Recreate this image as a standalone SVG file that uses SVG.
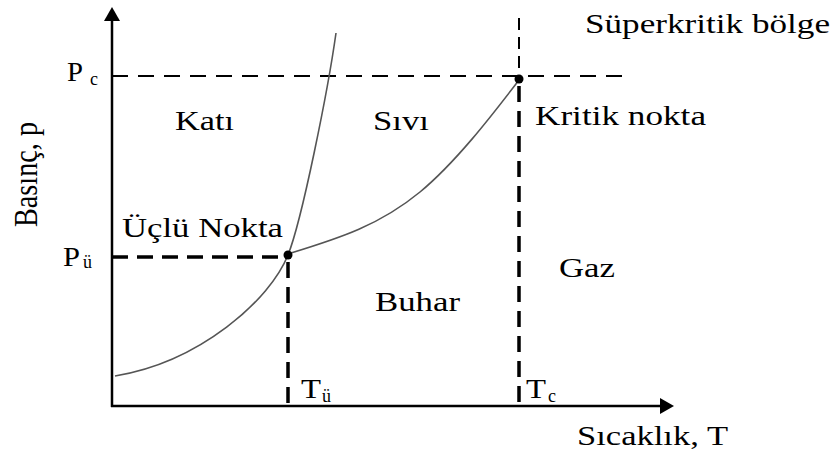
<svg xmlns="http://www.w3.org/2000/svg" width="836" height="453" viewBox="0 0 836 453">
<style>
  text { font-family: "Liberation Serif", "Times New Roman", serif; fill: #000; }
  .lbl { font-size: 27px; }
  .sub { font-size: 18px; }
  .axis { stroke: #000; stroke-width: 2.5; fill: none; }
  .thin-dash { stroke: #000; stroke-width: 2; stroke-dasharray: 16 10; fill: none; }
  .thin-dash-v { stroke: #000; stroke-width: 2; stroke-dasharray: 12 7; fill: none; }
  .thick-dash { stroke: #000; stroke-width: 3.5; stroke-dasharray: 16 9; fill: none; }
  .curve { stroke: #555; stroke-width: 1.6; fill: none; }
  .pt { fill: #000; }
</style>
<defs>
  <marker id="arrow" viewBox="0 0 14 16" refX="0" refY="8" markerWidth="14" markerHeight="16" orient="auto" markerUnits="userSpaceOnUse">
    <path d="M0,0 L14,8 L0,16 z" fill="#000"/>
  </marker>
</defs>
<rect width="836" height="453" fill="#fff"/>

<g id="connectors">
  <line class="axis" x1="112" y1="407" x2="112" y2="21" marker-end="url(#arrow)"/>
  <line class="axis" x1="111" y1="406" x2="660" y2="406" marker-end="url(#arrow)"/>
  <line class="thin-dash" x1="112" y1="76" x2="627" y2="76"/>
  <line class="thin-dash-v" x1="519" y1="18" x2="519" y2="76"/>
  <line class="thick-dash" x1="519" y1="86" x2="519" y2="406" stroke-dasharray="13 7"/>
  <line class="thick-dash" x1="112" y1="257" x2="288" y2="257"/>
  <line class="thick-dash" x1="288" y1="262" x2="288" y2="406" stroke-dasharray="15 7"/>
  <path class="curve" d="M115,376 C200,362 270,300 288,255 C302,220 328,90 336,33"/>
  <path class="curve" d="M291,253 C340,238 380,225 420,192 C455,163 490,118 519,80"/>
</g>

<g id="triple-point">
  <circle class="pt" cx="288" cy="255" r="4.5"/>
  <text class="lbl" x="122" y="237" textLength="161" lengthAdjust="spacingAndGlyphs">Üçlü Nokta</text>
</g>
<g id="critical-point">
  <circle class="pt" cx="519" cy="79" r="4.5"/>
  <text class="lbl" x="535" y="125" textLength="171" lengthAdjust="spacingAndGlyphs">Kritik nokta</text>
</g>
<g id="supercritical">
  <text class="lbl" x="585" y="33" textLength="245" lengthAdjust="spacingAndGlyphs">Süperkritik bölge</text>
</g>
<g id="solid">
  <text class="lbl" x="175" y="130" textLength="59" lengthAdjust="spacingAndGlyphs">Katı</text>
</g>
<g id="liquid">
  <text class="lbl" x="373" y="130" textLength="56" lengthAdjust="spacingAndGlyphs">Sıvı</text>
</g>
<g id="vapor">
  <text class="lbl" x="375" y="311" textLength="85" lengthAdjust="spacingAndGlyphs">Buhar</text>
</g>
<g id="gas">
  <text class="lbl" x="559" y="277" textLength="56" lengthAdjust="spacingAndGlyphs">Gaz</text>
</g>
<g id="pc-label">
  <text class="lbl" x="67" y="81" textLength="16" lengthAdjust="spacingAndGlyphs">P</text>
  <text class="sub" x="90" y="85">c</text>
</g>
<g id="pu-label">
  <text class="lbl" x="63" y="266" textLength="17" lengthAdjust="spacingAndGlyphs">P</text>
  <text class="sub" x="83" y="268">ü</text>
</g>
<g id="tu-label">
  <text class="lbl" x="301" y="398" textLength="20" lengthAdjust="spacingAndGlyphs">T</text>
  <text class="sub" x="322" y="402">ü</text>
</g>
<g id="tc-label">
  <text class="lbl" x="526" y="398" textLength="20" lengthAdjust="spacingAndGlyphs">T</text>
  <text class="sub" x="548" y="402">c</text>
</g>
<g id="x-axis-label">
  <text class="lbl" x="577" y="445" textLength="151" lengthAdjust="spacingAndGlyphs">Sıcaklık, T</text>
</g>
<g id="y-axis-label">
  <text class="lbl" transform="translate(37,227) scale(1.25,1) rotate(-90)" x="0" y="0" textLength="105" lengthAdjust="spacingAndGlyphs">Basınç, p</text>
</g>
</svg>
